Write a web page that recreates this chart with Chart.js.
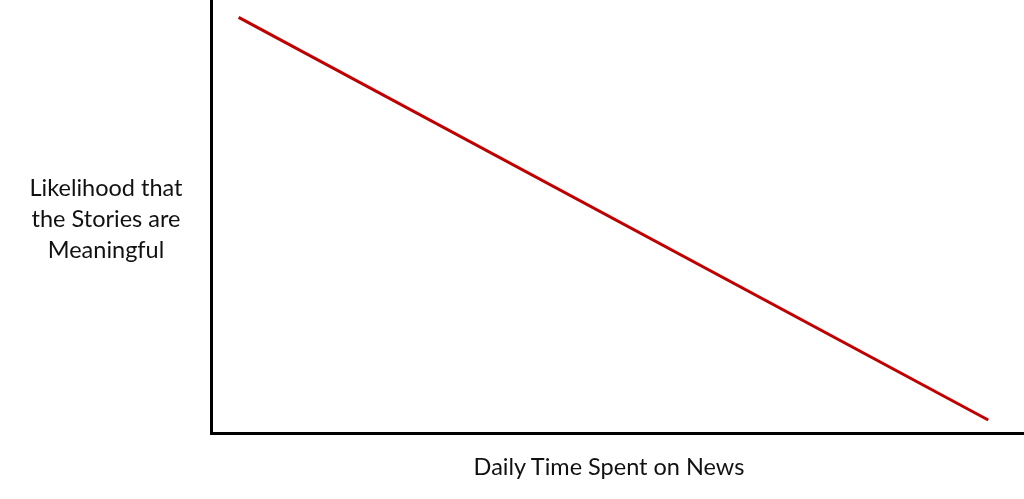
<!DOCTYPE html>
<html>
<head>
<meta charset="utf-8">
<script src="https://cdn.jsdelivr.net/npm/chart.js@4.4.1/dist/chart.umd.min.js"></script>
<style>
  html, body { margin: 0; padding: 0; background: #fff; }
  #wrap { position: relative; width: 1024px; height: 499px; }
  .lbl { position: absolute; font-family: Lato, 'Open Sans', sans-serif; font-size: 23.5px; color: #111; text-align: center; }
  #ylab { left: 6px; width: 200px; top: 172px; line-height: 31px; }
  #xlab { left: 409px; width: 400px; top: 452px; }
</style>
</head>
<body>
<div id="wrap">
  <canvas id="c" width="1024" height="499"></canvas>
  <div class="lbl" id="ylab">Likelihood that<br>the Stories are<br>Meaningful</div>
  <div class="lbl" id="xlab">Daily Time Spent on News</div>
</div>
<script>
// datos de la línea (escala 0–100 en ambos ejes)
const timeSpent    = [3.4, 95.6];
const meaningScore = [96, 3];

const points = timeSpent.map((x, i) => ({ x, y: meaningScore[i] }));

new Chart(document.getElementById('c').getContext('2d'), {
  type: 'line',
  data: {
    datasets: [{
      data: points,
      borderColor: '#c00000',
      borderWidth: 3,
      pointRadius: 0,
      tension: 0
    }]
  },
  options: {
    responsive: false,
    animation: false,
    layout: { padding: { left: 203, bottom: 58, top: 0, right: 0 } },
    plugins: { legend: { display: false }, tooltip: { enabled: false } },
    scales: {
      x: {
        type: 'linear', min: 0, max: 100,
        grid: { display: false },
        ticks: { display: false },
        border: { color: '#000', width: 3 }
      },
      y: {
        min: 0, max: 100,
        grid: { display: false },
        ticks: { display: false },
        border: { color: '#000', width: 3 }
      }
    }
  }
});
</script>
</body>
</html>
